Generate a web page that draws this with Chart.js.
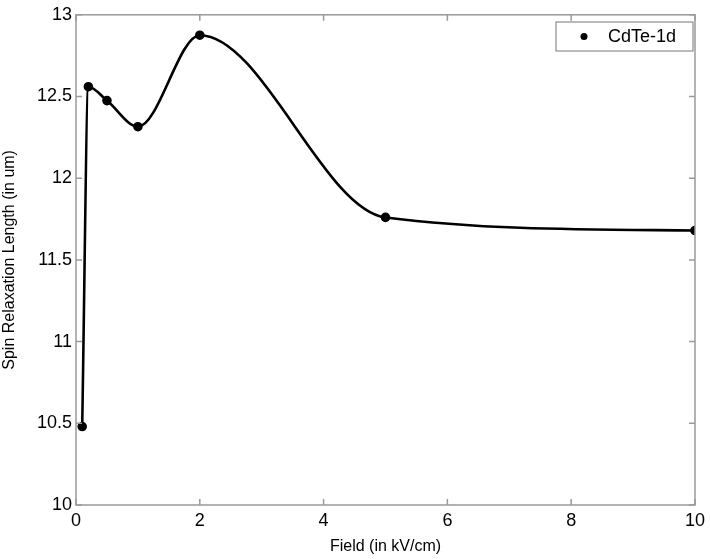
<!DOCTYPE html>
<html>
<head>
<meta charset="utf-8">
<script src="https://cdn.jsdelivr.net/npm/chart.js@4.4.1/dist/chart.umd.min.js"></script>
<style>
    html, body { margin: 0; padding: 0; background: #fff; }
    #wrap { width: 710px; height: 559px; }
</style>
</head>
<body>
<div id="wrap"><canvas id="spinChart"></canvas></div>
<script>
// 数据
const fieldValues = [0.1, 0.2, 0.5, 1, 2, 5, 10];
const spinLength = [10.48, 12.56, 12.475, 12.315, 12.875, 11.76, 11.68];
const xTicks = [0, 2, 4, 6, 8, 10];
const yTicks = [10, 10.5, 11, 11.5, 12, 12.5, 13];
const seriesName = 'CdTe-1d';

// 坐标框 + 内侧刻度 + 图例
const boxPlugin = {
    id: 'matlabBox',
    afterDraw(chart) {
        const ctx = chart.ctx;
        const a = chart.chartArea;
        const xs = chart.scales.x, ys = chart.scales.y;
        ctx.save();
        ctx.strokeStyle = '#9a9a9a';
        ctx.lineWidth = 1.5;
        ctx.strokeRect(a.left, a.top, a.right - a.left, a.bottom - a.top);
        ctx.beginPath();
        xTicks.forEach(function(v) {
            const px = xs.getPixelForValue(v);
            ctx.moveTo(px, a.bottom); ctx.lineTo(px, a.bottom - 6);
            ctx.moveTo(px, a.top); ctx.lineTo(px, a.top + 6);
        });
        yTicks.forEach(function(v) {
            const py = ys.getPixelForValue(v);
            ctx.moveTo(a.left, py); ctx.lineTo(a.left + 6, py);
            ctx.moveTo(a.right, py); ctx.lineTo(a.right - 6, py);
        });
        ctx.stroke();

        // 图例
        const lx = 556, ly = 22, lw = 137, lh = 29;
        ctx.fillStyle = '#fff';
        ctx.fillRect(lx, ly, lw, lh);
        ctx.strokeStyle = '#777';
        ctx.lineWidth = 1;
        ctx.strokeRect(lx, ly, lw, lh);
        ctx.fillStyle = '#000';
        ctx.beginPath();
        ctx.arc(lx + 28, ly + lh / 2, 3.5, 0, Math.PI * 2);
        ctx.fill();
        ctx.font = '18px "Liberation Sans", Arial, sans-serif';
        ctx.textBaseline = 'middle';
        ctx.fillText(chart.data.datasets[0].label, lx + 52, ly + lh / 2 + 1);
        ctx.restore();
    }
};

const tickFont = { family: '"Liberation Sans", Arial, sans-serif', size: 18 };
const titleFont = { family: '"Liberation Sans", Arial, sans-serif', size: 16 };

new Chart(document.getElementById('spinChart').getContext('2d'), {
    type: 'line',
    data: {
        datasets: [{
            label: seriesName,
            data: fieldValues.map(function(x, i) { return { x: x, y: spinLength[i] }; }),
            borderColor: '#000',
            backgroundColor: '#000',
            borderWidth: 2.6,
            pointRadius: 3.5,
            pointHoverRadius: 3.5,
            cubicInterpolationMode: 'monotone',
            fill: false
        }]
    },
    options: {
        responsive: true,
        maintainAspectRatio: false,
        animation: false,
        layout: { padding: { top: 14, right: 11, left: 0, bottom: 0 } },
        plugins: {
            legend: { display: false },
            tooltip: { enabled: false }
        },
        scales: {
            x: {
                type: 'linear',
                min: 0, max: 10,
                afterBuildTicks: function(s) { s.ticks = xTicks.map(function(v) { return { value: v }; }); },
                afterFit: function(s) { s.height = 54; },
                grid: { display: false, drawTicks: false },
                border: { display: false },
                ticks: { color: '#000', font: tickFont, padding: 5, maxRotation: 0, callback: function(v) { return String(v); } },
                title: { display: true, text: 'Field (in kV/cm)', color: '#000', font: titleFont, padding: { top: 0, bottom: 3 } }
            },
            y: {
                type: 'linear',
                min: 10, max: 13,
                afterBuildTicks: function(s) { s.ticks = yTicks.map(function(v) { return { value: v }; }); },
                afterFit: function(s) { s.width = 76; },
                grid: { display: false, drawTicks: false },
                border: { display: false },
                ticks: { color: '#000', font: tickFont, padding: 4, callback: function(v) { return String(v); } },
                title: { display: true, text: 'Spin Relaxation Length (in um)', color: '#000', font: titleFont, padding: { top: 0, bottom: 2 } }
            }
        }
    },
    plugins: [boxPlugin]
});
</script>
</body>
</html>
